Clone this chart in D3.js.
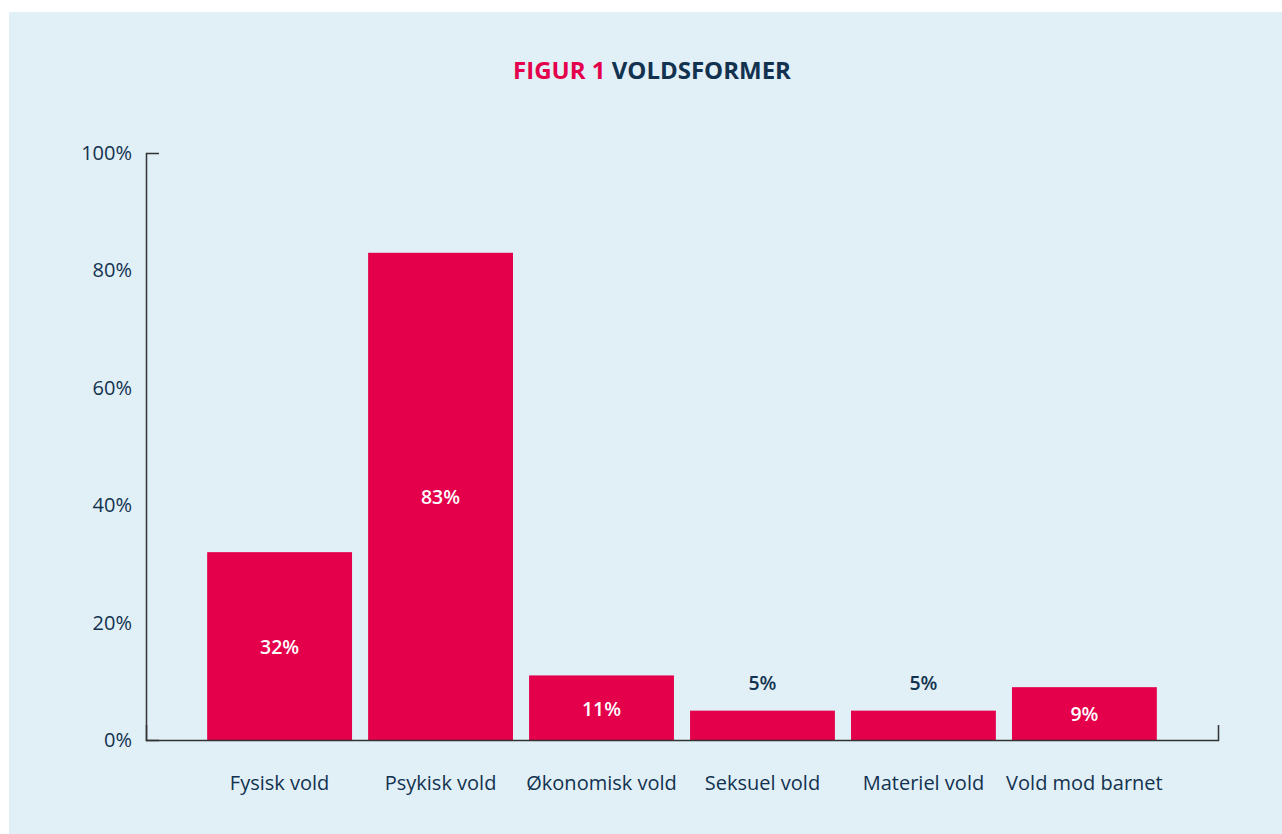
<!DOCTYPE html>
<head>
    <meta charset="UTF-8">
    <script src="https://d3js.org/d3.v7.min.js"></script>
    <style>
        body { margin: 0; background: #fff; font-family: "Open Sans", sans-serif; }
        svg { display: block; }
        .tick text { font-family: "Open Sans", sans-serif; }
    </style>
</head>
<body>
    <div id="viz"></div>
    <script>
        // chart values
        const categories = ["Fysisk vold", "Psykisk vold", "Økonomisk vold", "Seksuel vold", "Materiel vold", "Vold mod barnet"]
        const values = [32, 83, 11, 5, 5, 9]
        const yTicks = [0, 20, 40, 60, 80, 100]

        const width = 1282
        const height = 834
        const red = "#e4004b"
        const navy = "#12324f"

        const svg = d3.select("#viz").append("svg")
            .attr("width", width)
            .attr("height", height)

        // light blue panel
        svg.append("rect")
            .attr("x", 9).attr("y", 12)
            .attr("width", width - 9).attr("height", height - 12)
            .attr("fill", "#e1eff7")

        // title
        const title = svg.append("text")
            .attr("x", 652).attr("y", 79)
            .attr("text-anchor", "middle")
            .style("font-size", "24px")
            .style("font-weight", 700)
        title.append("tspan").attr("fill", red).text("FIGUR 1 ")
        title.append("tspan").attr("fill", navy).text("VOLDSFORMER")

        const x = d3.scaleBand()
            .domain(categories)
            .range([146, 1218])
            .paddingInner(0.1)
            .paddingOuter(0.38)

        const y = d3.scaleLinear()
            .domain([0, 100])
            .range([740, 153])

        // y axis
        const yAxis = svg.append("g")
            .attr("transform", "translate(146,0)")
            .call(d3.axisLeft(y).tickValues(yTicks).tickSize(0).tickSizeOuter(-13).tickPadding(14).tickFormat(d => d + "%"))
        yAxis.select(".domain").attr("stroke", "#333").attr("stroke-width", 1.5)
        yAxis.selectAll(".tick text").attr("fill", navy).style("font-size", "20px")

        // bars
        svg.selectAll(".bar")
            .data(values)
            .enter()
            .append("rect")
            .attr("class", "bar")
            .attr("x", (d, i) => x(categories[i]))
            .attr("y", d => y(d))
            .attr("width", x.bandwidth())
            .attr("height", d => y(0) - y(d))
            .attr("fill", red)

        // value labels: inside for taller bars, above for small ones
        svg.selectAll(".val")
            .data(values)
            .enter()
            .append("text")
            .attr("class", "val")
            .attr("x", (d, i) => x(categories[i]) + x.bandwidth() / 2)
            .attr("y", d => d > 7 ? (y(d) + y(0)) / 2 + 1 : y(d) - 27)
            .attr("dy", "0.35em")
            .attr("text-anchor", "middle")
            .attr("fill", d => d > 7 ? "#fff" : navy)
            .style("font-size", "19.5px")
            .style("font-weight", 600)
            .text(d => d + "%")

        // x axis
        const xAxis = svg.append("g")
            .attr("transform", "translate(0,740)")
            .call(d3.axisBottom(x).tickSize(0).tickSizeOuter(-15).tickPadding(36))
        xAxis.select(".domain").attr("stroke", "#333").attr("stroke-width", 1.5)
        xAxis.selectAll(".tick text").attr("fill", navy).style("font-size", "20px")
    </script>
</body>
</html>
